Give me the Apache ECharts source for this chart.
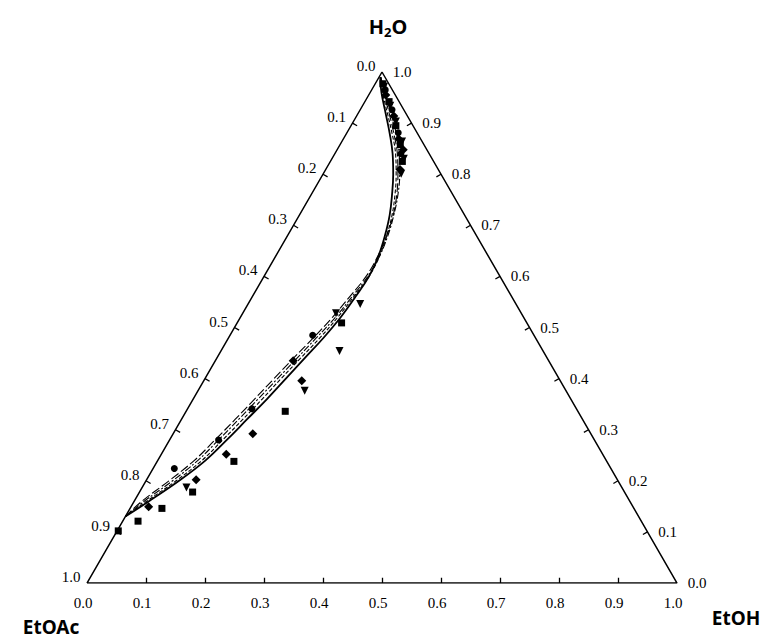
<!DOCTYPE html>
<html>
<head>
<meta charset="utf-8">
<script src="https://cdn.jsdelivr.net/npm/echarts@6/dist/echarts.min.js"></script>
<style>
  html, body { margin: 0; padding: 0; background: #fff; }
  #chart { width: 763px; height: 639px; }
</style>
</head>
<body>
<div id="chart"></div>
<script>
// Ternary liquid–liquid equilibrium diagram: H2O / EtOAc / EtOH (mass fractions)

// Axis ticks (shared by the three edges)
const TICK_VALUES = [0, 0.1, 0.2, 0.3, 0.4, 0.5, 0.6, 0.7, 0.8, 0.9, 1.0];
const TICK_LABELS = ['0.0', '0.1', '0.2', '0.3', '0.4', '0.5', '0.6', '0.7', '0.8', '0.9', '1.0'];

// Binodal curves: water fraction grid and ethanol fraction for each model
const CURVE_H2O   = [0.99, 0.96, 0.92, 0.88, 0.84, 0.80, 0.76, 0.72, 0.68, 0.64, 0.60, 0.56, 0.52, 0.48, 0.44, 0.40, 0.36, 0.32, 0.28, 0.24, 0.20, 0.16, 0.13];
const ETOH_SOLID  = [0.002, 0.019, 0.046, 0.073, 0.098, 0.119, 0.137, 0.153, 0.165, 0.174, 0.178, 0.175, 0.170, 0.161, 0.149, 0.137, 0.125, 0.111, 0.097, 0.081, 0.056, 0.025, 0.000];
const ETOH_LONGDASH = [0.003, 0.023, 0.052, 0.080, 0.106, 0.127, 0.145, 0.159, 0.168, 0.173, 0.173, 0.165, 0.156, 0.144, 0.130, 0.117, 0.104, 0.091, 0.077, 0.062, 0.039, 0.013, 0.000];
const ETOH_DASHDOT  = [0.003, 0.025, 0.055, 0.084, 0.109, 0.130, 0.147, 0.160, 0.170, 0.176, 0.176, 0.169, 0.161, 0.149, 0.136, 0.123, 0.110, 0.097, 0.083, 0.068, 0.045, 0.017, 0.000];
const ETOH_SHORTDASH = [0.002, 0.021, 0.049, 0.077, 0.103, 0.124, 0.142, 0.157, 0.168, 0.176, 0.178, 0.172, 0.165, 0.155, 0.142, 0.129, 0.117, 0.104, 0.090, 0.075, 0.051, 0.021, 0.000];

// Experimental tie-line ends (H2O, EtOH) by marker set
const SQUARE_H2O  = [0.977, 0.942, 0.895, 0.858, 0.825, 0.509, 0.336, 0.238, 0.178, 0.146, 0.121, 0.102];
const SQUARE_ETOH = [0.013, 0.041, 0.076, 0.102, 0.122, 0.177, 0.168, 0.130, 0.090, 0.054, 0.026, 0.002];
const CIRCLE_H2O  = [0.965, 0.926, 0.881, 0.840, 0.485, 0.341, 0.280, 0.224];
const CIRCLE_ETOH = [0.023, 0.054, 0.087, 0.112, 0.140, 0.109, 0.083, 0.036];
const DIAMOND_H2O  = [0.955, 0.914, 0.869, 0.848, 0.809, 0.435, 0.396, 0.292, 0.252, 0.202, 0.149];
const DIAMOND_ETOH = [0.029, 0.063, 0.094, 0.112, 0.126, 0.132, 0.166, 0.135, 0.110, 0.084, 0.030];
const TRIANGLE_H2O  = [0.971, 0.934, 0.903, 0.864, 0.830, 0.801, 0.546, 0.528, 0.454, 0.376, 0.187];
const TRIANGLE_ETOH = [0.018, 0.047, 0.072, 0.102, 0.122, 0.132, 0.190, 0.158, 0.201, 0.181, 0.075];

const S3 = Math.sqrt(3) / 2;
// (water, ethanol) -> cartesian position inside the unit triangle
function tern(h, e) { return [e + h / 2, h * S3]; }

function curve(eArr) { return CURVE_H2O.map((h, i) => tern(h, eArr[i])); }
function points(hArr, eArr) { return hArr.map((h, i) => tern(h, eArr[i])); }

// Tick geometry: each edge with its inward normal and label offset (px)
const TL = 0.009;
const edges = [
  { pos: t => [t, 0], n: [0, 1], off: [-4, 20] },                           // EtOH (bottom)
  { pos: t => [(1 - t) / 2, (1 - t) * S3], n: [S3, -0.5], off: [-16, -6] }, // EtOAc (left)
  { pos: t => [1 - t / 2, t * S3], n: [-S3, -0.5], off: [20, 0] }           // H2O (right)
];

const tickLines = [];
const labelData = [];
edges.forEach((ed, k) => {
  TICK_VALUES.forEach((t, i) => {
    const p = ed.pos(t);
    if (t > 0 && t < 1) {
      tickLines.push({ coords: [p, [p[0] + ed.n[0] * TL, p[1] + ed.n[1] * TL]] });
    }
    labelData.push([p[0], p[1], i, k]);
  });
});

const tickLabelSeries = {
  type: 'custom', silent: true, z: 5, data: labelData,
  renderItem: (params, api) => {
    const c = api.coord([api.value(0), api.value(1)]);
    const off = edges[api.value(3)].off;
    return {
      type: 'text', x: c[0] + off[0], y: c[1] + off[1],
      style: {
        text: TICK_LABELS[api.value(2)], align: 'center', verticalAlign: 'middle',
        fontFamily: 'Liberation Serif', fontSize: 15, fill: '#000'
      }
    };
  }
};

function curveSeries(eArr, type, width) {
  return {
    type: 'line', data: curve(eArr), smooth: 0.4, symbol: 'none', silent: true,
    lineStyle: { color: '#000', width: width, type: type }, z: 3
  };
}

function markerSeries(hArr, eArr, symbol, size) {
  return {
    type: 'scatter', data: points(hArr, eArr), symbol: symbol, symbolSize: size,
    itemStyle: { color: '#000', opacity: 1 }, silent: true, z: 4
  };
}

const chart = echarts.init(document.getElementById('chart'), null, { renderer: 'svg' });
chart.setOption({
  animation: false,
  backgroundColor: '#fff',
  grid: { left: 87, right: 86, top: 72, bottom: 56 },
  xAxis: { type: 'value', min: 0, max: 1, show: false },
  yAxis: { type: 'value', min: 0, max: S3, show: false },
  title: [
    {
      text: '{n|H}{s|2}{n|O}', left: 383, top: 5, textAlign: 'center',
      textStyle: {
        rich: {
          n: { fontFamily: 'Noto Sans', fontWeight: 'bold', fontSize: 20, color: '#000', lineHeight: 26, verticalAlign: 'bottom' },
          s: { fontFamily: 'Noto Sans', fontWeight: 'bold', fontSize: 13, color: '#000', lineHeight: 20, verticalAlign: 'bottom', padding: [0, 0, -2, 0] }
        }
      }
    },
    { text: 'EtOAc', left: 46, top: 612, textAlign: 'center',
      textStyle: { fontFamily: 'Noto Sans', fontWeight: 'bold', fontSize: 19, color: '#000' } },
    { text: 'EtOH', left: 731, top: 603, textAlign: 'center',
      textStyle: { fontFamily: 'Noto Sans', fontWeight: 'bold', fontSize: 19, color: '#000' } }
  ],
  series: [
    {
      type: 'line', data: [[0, 0], [1, 0], [0.5, S3], [0, 0]], symbol: 'none', silent: true,
      lineStyle: { color: '#000', width: 1.5 }, z: 2
    },
    {
      type: 'lines', coordinateSystem: 'cartesian2d', data: tickLines, silent: true,
      lineStyle: { color: '#000', width: 1.3, opacity: 1 }, z: 2
    },
    tickLabelSeries,
    curveSeries(ETOH_LONGDASH, [9, 3], 1.1),
    curveSeries(ETOH_DASHDOT, [7, 2, 2, 2], 1.1),
    curveSeries(ETOH_SHORTDASH, [4, 2], 1.1),
    curveSeries(ETOH_SOLID, 'solid', 1.8),
    markerSeries(SQUARE_H2O, SQUARE_ETOH, 'rect', 7),
    markerSeries(CIRCLE_H2O, CIRCLE_ETOH, 'circle', 7),
    markerSeries(DIAMOND_H2O, DIAMOND_ETOH, 'diamond', 9),
    markerSeries(TRIANGLE_H2O, TRIANGLE_ETOH, 'path://M0,0 L10,0 L5,9 Z', 8)
  ]
});
</script>
</body>
</html>
